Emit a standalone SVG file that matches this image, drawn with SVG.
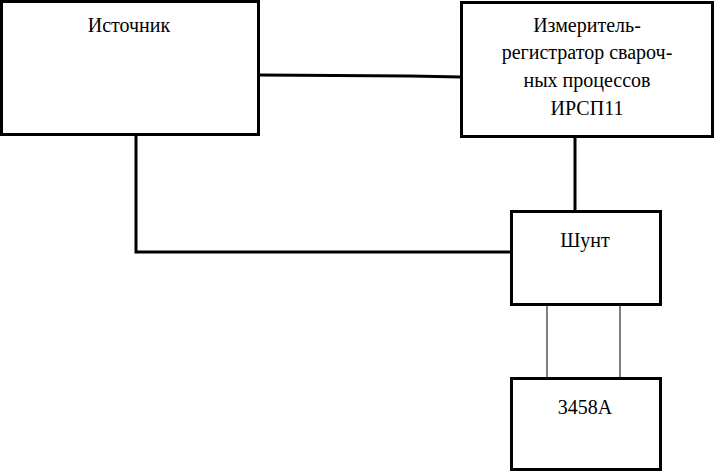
<svg xmlns="http://www.w3.org/2000/svg" width="718" height="475" viewBox="0 0 718 475">
<style>
.b{fill:#fff;stroke:#000;stroke-width:3}
.t{font-family:"Liberation Serif","Times New Roman","DejaVu Serif",serif;font-size:20px;fill:#000;text-anchor:middle}
.w{fill:none;stroke:#000;stroke-width:3}
.n{fill:none;stroke:#000;stroke-width:1}
</style>
<g id="connectors">
<polyline class="w" points="259,75 410,76 461,77"/>
<line class="w" x1="575" y1="137" x2="575" y2="211"/>
<polyline class="w" points="136,135 136,252 511,252"/>
<line class="n" x1="547" y1="305" x2="547" y2="378"/>
<line class="n" x1="620" y1="305" x2="620" y2="378"/>
</g>
<g id="source"><rect class="b" x="1.5" y="1.5" width="257" height="133"/><text class="t" x="129" y="32">Источник</text></g>
<g id="irsp"><rect class="b" x="461.5" y="2.5" width="251" height="134"/>
<text class="t" x="587" y="32">Измеритель-</text>
<text class="t" x="587" y="59">регистратор свароч-</text>
<text class="t" x="587" y="87">ных процессов</text>
<text class="t" x="587" y="115">ИРСП11</text></g>
<g id="shunt"><rect class="b" x="511.5" y="211.5" width="149" height="93"/><text class="t" x="585" y="247">Шунт</text></g>
<g id="meter"><rect class="b" x="511.5" y="378.5" width="149" height="91"/><text class="t" x="585" y="414">3458A</text></g>
</svg>
